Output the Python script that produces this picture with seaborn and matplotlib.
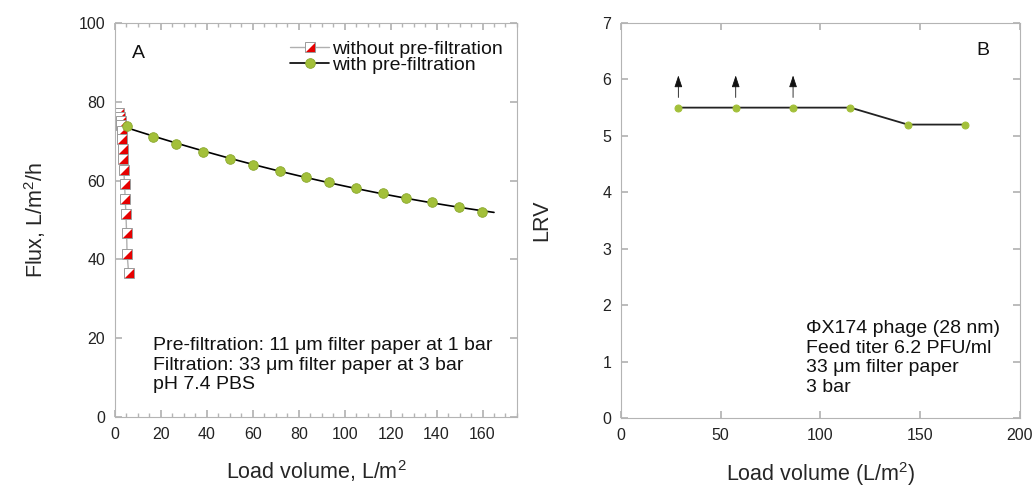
import numpy as np
import pandas as pd
import matplotlib
matplotlib.use("Agg")
import matplotlib.pyplot as plt
import seaborn as sns
from matplotlib.lines import Line2D
from matplotlib.legend_handler import HandlerTuple

# panel A data: flux vs load volume
noprefilt_load = [1.7, 2.2, 2.5, 2.7, 3.0, 3.2, 3.5, 3.6, 3.9, 4.2, 4.5, 4.8, 5.1, 5.3, 6.0]
noprefilt_flux = [77.2, 76.2, 75.2, 74.1, 72.5, 70.5, 68.1, 65.4, 62.7, 59.2, 55.3, 51.6, 46.8, 41.5, 36.5]
prefilt_load = [5.4, 16.7, 26.8, 38.5, 50.1, 60.0, 71.7, 83.3, 93.2, 104.9, 116.5, 126.5, 138.1, 149.7, 159.8]
prefilt_flux = [73.9, 71.2, 69.3, 67.3, 65.4, 64.0, 62.4, 60.8, 59.6, 58.2, 56.8, 55.7, 54.6, 53.2, 52.0]
fit_end = 165

# panel B data: LRV vs load volume
lrv_load = [28.75, 57.5, 86.25, 115.0, 143.75, 172.5]
lrv = [5.5, 5.5, 5.5, 5.5, 5.2, 5.2]
lower_bound = [True, True, True, False, False, False]

sns.set_theme(style="ticks")
plt.rcParams["font.family"] = ["Liberation Sans", "DejaVu Sans"]
plt.rcParams["text.color"] = "#111111"
plt.rcParams["mathtext.fontset"] = "custom"
plt.rcParams["mathtext.rm"] = "Liberation Sans"
plt.rcParams["mathtext.it"] = "Liberation Sans:italic"

green = "#a3c03a"
green_edge = "#8aa82e"
red = "#e60000"
spine_col = "#b4b4b4"
tri = [(1, -1), (1, 1), (-1, -1), (1, -1)]

fig = plt.figure(figsize=(10.35, 4.87), dpi=100)
axA = fig.add_axes([0.111, 0.1437, 0.3885, 0.809])
axB = fig.add_axes([0.600, 0.141, 0.3855, 0.812])

# ---- panel A
dfA1 = pd.DataFrame({"load": noprefilt_load, "flux": noprefilt_flux})
dfA2 = pd.DataFrame({"load": prefilt_load, "flux": prefilt_flux})

sns.lineplot(data=dfA1, x="load", y="flux", ax=axA, color="#b0b0b0", lw=1,
             sort=False, estimator=None)
# half-filled squares, drawn point by point so they stack like the original
for i, r in dfA1.iterrows():
    axA.plot(r["load"], r["flux"], ls="none", marker="s", ms=7.5,
             mfc="white", mec="#9a9a9a", mew=0.7, zorder=2 + i * 0.01)
    axA.plot(r["load"], r["flux"], ls="none", marker=tri, ms=6.5,
             mfc=red, mec=red, mew=0, zorder=2.005 + i * 0.01)

coef = np.polyfit(dfA2["load"], dfA2["flux"], 2)
xs = np.linspace(dfA2["load"].min(), fit_end, 100)
axA.plot(xs, np.polyval(coef, xs), color="black", lw=1.2, zorder=2.5)
sns.scatterplot(data=dfA2, x="load", y="flux", ax=axA, color=green, s=48,
                edgecolor=green_edge, linewidth=0.6, zorder=3)

axA.set_xlim(0, 175)
axA.set_ylim(0, 100)
axA.set_xticks(range(0, 161, 20))
axA.set_xticks(range(0, 176, 5), minor=True)
axA.set_yticks(range(0, 101, 20))
axA.set_xlabel("Load volume, L/m$^2$", fontsize=15.5, labelpad=12)
axA.set_ylabel("Flux, L/m$^2$/h", fontsize=15.5, labelpad=22)
axA.text(7.4, 91.1, "A", fontsize=14)
axA.text(16.5, 20.3, "Pre-filtration: 11 μm filter paper at 1 bar\n"
         "Filtration: 33 μm filter paper at 3 bar\npH 7.4 PBS",
         fontsize=14, linespacing=1.2, va="top")

h1 = (Line2D([], [], color="#b0b0b0", lw=1, marker="s", ms=7.5, mfc="white",
             mec="#9a9a9a", mew=0.7),
      Line2D([], [], ls="none", marker=tri, ms=6.5, mfc=red, mec=red, mew=0))
h2 = Line2D([], [], color="black", lw=1.2, marker="o", ms=7, mfc=green,
            mec=green_edge, mew=0.6)
axA.legend([h1, h2], ["without pre-filtration", "with pre-filtration"],
           handler_map={tuple: HandlerTuple(ndivide=1, pad=0)},
           loc="upper right", bbox_to_anchor=(0.965, 0.957), frameon=False,
           fontsize=14, handlelength=2.0, handletextpad=0.15,
           labelspacing=-0.05, borderaxespad=0, borderpad=0)

# ---- panel B
dfB = pd.DataFrame({"load": lrv_load, "lrv": lrv, "lb": lower_bound})
sns.lineplot(data=dfB, x="load", y="lrv", ax=axB, color="#222222", lw=1.3,
             marker="o", ms=5, mfc=green, mec=green, estimator=None)
for _, r in dfB[dfB["lb"]].iterrows():
    axB.annotate("", xy=(r["load"], r["lrv"] + 0.57), xytext=(r["load"], r["lrv"] + 0.18),
                 arrowprops=dict(arrowstyle="-|>,head_length=0.6,head_width=0.2",
                                 color="#111111", lw=0.6, shrinkA=0, shrinkB=0))

axB.set_xlim(0, 200)
axB.set_ylim(0, 7)
axB.set_xticks(range(0, 201, 50))
axB.set_yticks(range(0, 8))
axB.set_xlabel("Load volume (L/m$^2$)", fontsize=15.5, labelpad=12)
axB.set_ylabel("LRV", fontsize=15.5, labelpad=36)
axB.text(178, 6.44, "B", fontsize=14)
axB.text(92.5, 1.74, "ΦX174 phage (28 nm)\nFeed titer 6.2 PFU/ml\n"
         "33 μm filter paper\n3 bar", fontsize=14, linespacing=1.2, va="top")

for ax in (axA, axB):
    for s in ax.spines.values():
        s.set_color(spine_col)
        s.set_linewidth(0.8)
    ax.tick_params(which="both", direction="in", top=True, right=True,
                   color=spine_col, labelsize=11.5, labelcolor="#222222", pad=7)
    ax.tick_params(which="major", length=5)
    ax.tick_params(which="minor", length=3)

fig.savefig("out.png", dpi=100)
